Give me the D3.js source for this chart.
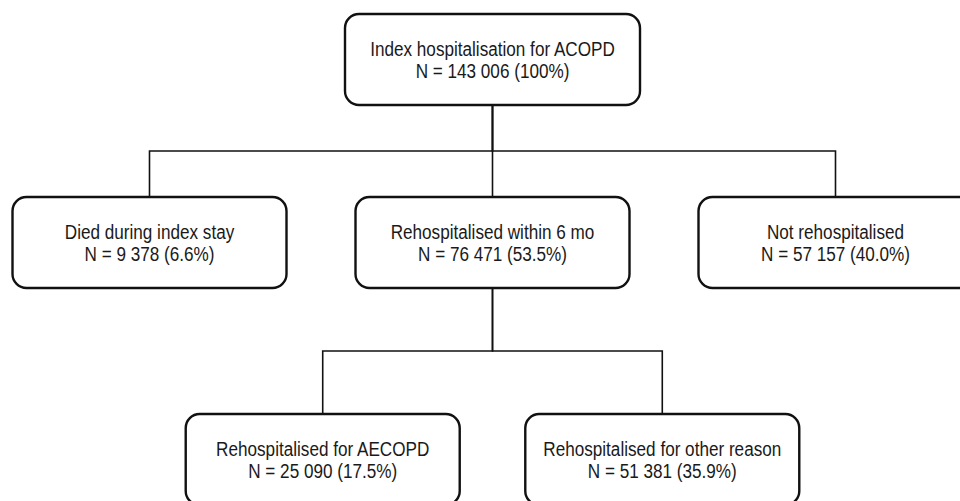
<!DOCTYPE html>
<html>
<head>
<meta charset="utf-8">
<script src="https://cdn.jsdelivr.net/npm/d3@7"></script>
<style>
    html, body { margin: 0; padding: 0; background: #fff; }
    #chart { width: 960px; height: 501px; overflow: hidden; }
    .box { fill: #fff; stroke: #111; stroke-width: 2.4; }
    .link { fill: none; stroke: #111; stroke-width: 1.6; }
    .label { font-family: "Liberation Sans", Arial, sans-serif; font-size: 20px; fill: #1a1a1a; }
</style>
</head>
<body>
<div id="chart"></div>
<script>
// flowchart data
const nodeIds = ['index', 'died', 'rehosp', 'notRehosp', 'aecopd', 'other'];
const nodeParents = ['', 'index', 'index', 'index', 'rehosp', 'rehosp'];
const nodeLabels = [
    'Index hospitalisation for ACOPD',
    'Died during index stay',
    'Rehospitalised within 6 mo',
    'Not rehospitalised',
    'Rehospitalised for AECOPD',
    'Rehospitalised for other reason'
];
const nodeCounts = [143006, 9378, 76471, 57157, 25090, 51381];
const nodePcts = [100, 6.6, 53.5, 40.0, 17.5, 35.9];

const width = 960;
const height = 501;

// layout settings
const levelTop = [14, 197, 414];
const boxH = 91;
const rootW = 295;
const boxW = 274;
const narrow = 0.857; // no narrow font installed, squeeze the sans instead

const fmtCount = d3.formatLocale({ decimal: '.', thousands: ' ', grouping: [3], currency: ['', ''] }).format(',d');
const fmtPct = p => p === 100 ? '100%' : p.toFixed(1) + '%';

const rows = nodeIds.map((id, i) => ({
    id: id,
    parent: nodeParents[i],
    label: nodeLabels[i],
    count: nodeCounts[i],
    pct: nodePcts[i]
}));

const root = d3.stratify()
    .id(d => d.id)
    .parentId(d => d.parent || null)(rows);

d3.tree()
    .nodeSize([343, 1])
    .separation((a, b) => a.depth > 1 ? 0.99 : 1)(root);

const offsetX = 492.5;
const cx = d => d.x + offsetX;
const boxTop = d => levelTop[d.depth];
const bw = d => d.depth === 0 ? rootW : boxW;

const svg = d3.select('#chart')
    .append('svg')
    .attr('width', width)
    .attr('height', height);

// elbow connectors
svg.append('g')
    .selectAll('path')
    .data(root.links())
    .enter().append('path')
    .attr('class', 'link')
    .attr('d', l => {
        const y0 = boxTop(l.source) + boxH;
        const y1 = boxTop(l.target);
        const bus = (y0 + y1) / 2;
        return `M${cx(l.source)},${y0}V${bus}H${cx(l.target)}V${y1}`;
    });

// boxes
const node = svg.append('g')
    .selectAll('g')
    .data(root.descendants())
    .enter().append('g')
    .attr('transform', d => `translate(${cx(d)},${boxTop(d)})`);

node.append('rect')
    .attr('class', 'box')
    .attr('x', d => -bw(d) / 2)
    .attr('y', 0)
    .attr('width', d => bw(d))
    .attr('height', boxH)
    .attr('rx', 14)
    .attr('ry', 14);

const txt = node.append('text')
    .attr('class', 'label')
    .attr('text-anchor', 'middle')
    .attr('transform', `scale(${narrow},1)`);

txt.append('tspan')
    .attr('x', 0)
    .attr('y', boxH / 2 - 3)
    .text(d => d.data.label);

txt.append('tspan')
    .attr('x', 0)
    .attr('y', boxH / 2 + 19)
    .text(d => `N = ${fmtCount(d.data.count)} (${fmtPct(d.data.pct)})`);
</script>
</body>
</html>
